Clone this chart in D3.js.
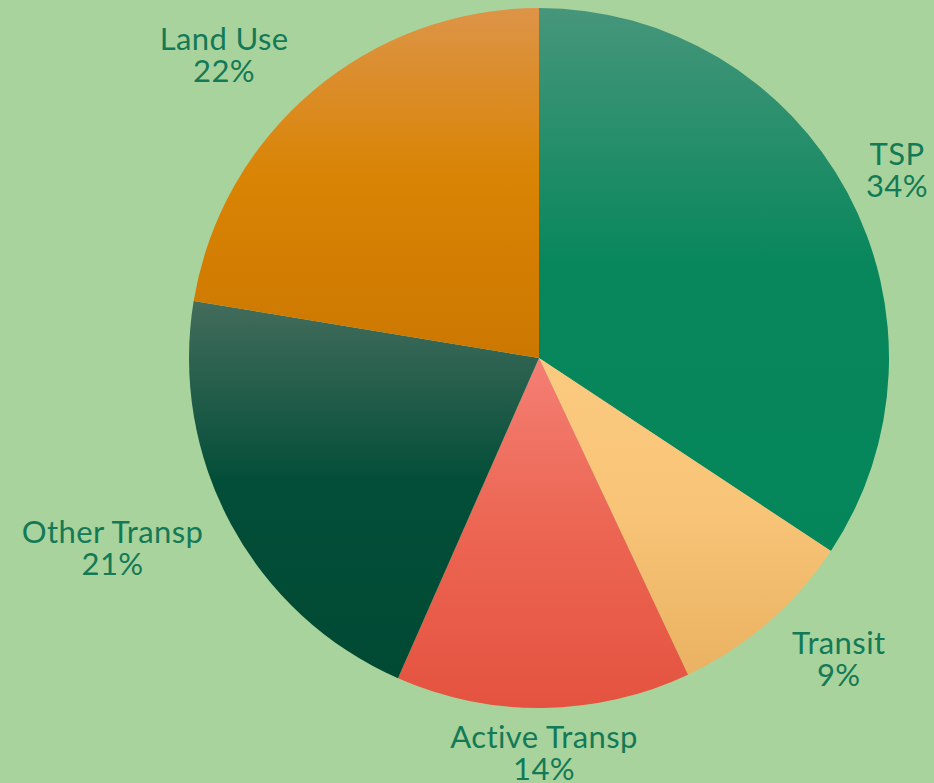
<!DOCTYPE html>
<html>
<head>
<meta charset="utf-8">
<script src="https://cdn.jsdelivr.net/npm/d3@7"></script>
<style>
  html, body { margin: 0; padding: 0; background: #a9d39c; }
  svg { display: block; }
</style>
</head>
<body>
<svg id="chart"></svg>
<script>
// chart data
const categories = ["TSP", "Transit", "Active Transp", "Other Transp", "Land Use"];
const values = [34.3, 8.7, 13.6, 21.0, 22.4];

// gradient stops per slice (top, middle, bottom)
const sliceColors = [
    ["#46967b", "#07875b", "#05855a"],
    ["#fbca80", "#f8c477", "#eab262"],
    ["#f47f74", "#ec6653", "#e4533f"],
    ["#436c5c", "#034e38", "#004a34"],
    ["#dd9447", "#d98404", "#cc7700"]
];

const width = 934, height = 783;
const cx = 539, cy = 358, radius = 350;
const labelColor = "#137a57";
const fontSize = 31, lineGap = 32, capH = 22;

const svg = d3.select("#chart")
    .attr("width", width)
    .attr("height", height);

svg.append("rect")
    .attr("width", width)
    .attr("height", height)
    .attr("fill", "#a9d39c");

const defs = svg.append("defs");
sliceColors.forEach((c, i) => {
    const g = defs.append("linearGradient")
        .attr("id", "grad" + i)
        .attr("x1", 0).attr("y1", 0)
        .attr("x2", 0).attr("y2", 1);
    g.append("stop").attr("offset", "0%").attr("stop-color", c[0]);
    g.append("stop").attr("offset", "48%").attr("stop-color", c[1]);
    g.append("stop").attr("offset", "100%").attr("stop-color", c[2]);
});

const pie = d3.pie().sort(null).value(d => d);
const arcs = pie(values);
const arc = d3.arc().innerRadius(0).outerRadius(radius);

const chart = svg.append("g")
    .attr("transform", `translate(${cx}, ${cy})`);

chart.selectAll("path.slice")
    .data(arcs)
    .join("path")
    .attr("class", "slice")
    .attr("d", arc)
    .attr("fill", (d, i) => `url(#grad${i})`);

// labels outside the pie
const total = d3.sum(values);
const ry = radius + 21;     // vertical placement
const clearR = 373;         // nearest label corner stays outside this circle
const boxH = capH + lineGap;

const labels = chart.selectAll("g.label")
    .data(arcs)
    .join("g")
    .attr("class", "label");

const texts = labels.append("text")
    .attr("text-anchor", "middle")
    .attr("fill", labelColor)
    .attr("font-family", "Lato, 'Noto Sans', sans-serif")
    .attr("font-size", `${fontSize}px`)
    .attr("letter-spacing", "0.4px");

texts.append("tspan")
    .attr("x", 0)
    .attr("y", -boxH / 2 + capH)
    .text((d, i) => categories[i]);

texts.append("tspan")
    .attr("x", 0)
    .attr("y", -boxH / 2 + capH + lineGap)
    .text(d => `${Math.round(d.value / total * 100)}%`);

labels.attr("transform", function(d) {
    const w = this.getBBox().width;
    const mid = (d.startAngle + d.endAngle) / 2;
    const s = Math.sin(mid);
    let y = -(ry + boxH / 2) * Math.cos(mid);
    // keep the label inside the picture
    y = Math.max(13 - cy + boxH / 2, Math.min(height - 3 - cy - boxH / 2, y));
    let x;
    if (Math.abs(s) < 0.25) {
        x = (ry + boxH / 2) * s;
    } else {
        const dy = Math.max(0, Math.abs(y) - boxH / 2);
        const dx = Math.sqrt(Math.max(0, clearR * clearR - dy * dy));
        x = Math.sign(s) * (dx + w / 2);
    }
    x = Math.max(6 - cx + w / 2, Math.min(width - 6 - cx - w / 2, x));
    return `translate(${x}, ${y})`;
});
</script>
</body>
</html>
